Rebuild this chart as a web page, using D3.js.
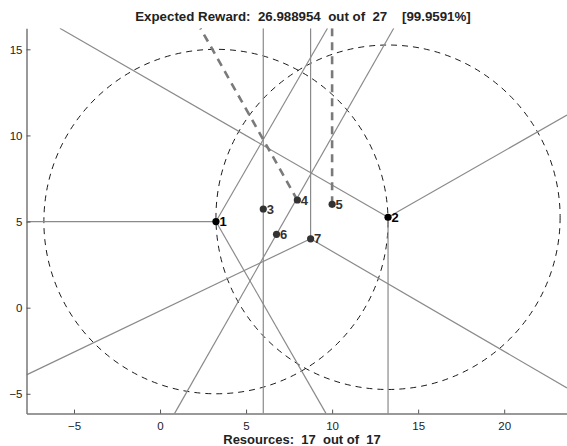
<!DOCTYPE html>
<html><head><meta charset="utf-8">
<script src="https://cdn.jsdelivr.net/npm/d3@7"></script>
<style>
body{margin:0;background:#fff;}
text{font-family:"Liberation Sans",Arial,Helvetica,sans-serif;}
</style></head>
<body><svg id="c" width="567" height="446"></svg>
<script>
// ---- data ----
const xDomain = [-7.76, 23.65];
const yDomain = [-6.15, 16.22];
const xTicks = [-5, 0, 5, 10, 15, 20];
const yTicks = [-5, 0, 5, 10, 15];
const pointIds = ["1","2","3","4","5","6","7"];
const pointX = [3.25, 13.25, 6.0, 7.98, 10.0, 6.77, 8.75];
const pointY = [5.0, 5.25, 5.73, 6.25, 6.0, 4.26, 4.0];
const circleCenters = ["1","2"];
const circleRadius = 10;
// solid segments [x1,y1,x2,y2] in data units
const segX1 = [-7.76, 3.25, 3.25, 6.0, 0.84, 8.75, 8.75, 8.75, 13.25, 13.25, 13.25];
const segY1 = [5.0, 5.0, 5.0, -6.15, -6.15, 4.0, 4.0, 4.0, 5.25, 5.25, 5.25];
const segX2 = [3.25, 9.73, 9.65, 6.0, 13.58, 8.75, -7.76, 23.65, -5.82, 23.65, 13.25];
const segY2 = [5.0, 16.22, -6.15, 16.22, 16.22, 16.22, -3.9, -4.66, 16.22, 11.18, -6.15];
// dashed thick segments
const dashX1 = [7.98, 10.0];
const dashY1 = [6.25, 6.0];
const dashX2 = [2.35, 10.0];
const dashY2 = [16.22, 16.22];
const titleText = "Expected Reward:  26.988954  out of  27    [99.9591%]";
const xLabelText = "Resources:  17  out of  17";

// ---- drawing ----
const svg = d3.select("#c");
const L = 26.5, R = 567, T = 28.3, B = 413.6;
const x = d3.scaleLinear().domain(xDomain).range([L, R]);
const y = d3.scaleLinear().domain(yDomain).range([B, T]);

svg.append("rect").attr("width",567).attr("height",446).attr("fill","#fff");
svg.append("clipPath").attr("id","clip").append("rect")
  .attr("x",L).attr("y",T).attr("width",R-L).attr("height",B-T);
const g = svg.append("g").attr("clip-path","url(#clip)");

const pts = pointIds.map((id,i)=>({id, x:pointX[i], y:pointY[i]}));

// circles
g.selectAll("ellipse.cov").data(circleCenters.map(id=>pts.find(p=>p.id===id)))
  .enter().append("ellipse")
  .attr("cx",d=>x(d.x)).attr("cy",d=>y(d.y))
  .attr("rx",d=>x(d.x+circleRadius)-x(d.x))
  .attr("ry",d=>y(d.y)-y(d.y+circleRadius))
  .attr("fill","none").attr("stroke","#000").attr("stroke-width",0.9)
  .attr("stroke-dasharray","6,5");

// solid segments
const segs = segX1.map((v,i)=>({x1:v,y1:segY1[i],x2:segX2[i],y2:segY2[i]}));
g.selectAll("line.seg").data(segs).enter().append("line")
  .attr("x1",d=>x(d.x1)).attr("y1",d=>y(d.y1))
  .attr("x2",d=>x(d.x2)).attr("y2",d=>y(d.y2))
  .attr("stroke","#8a8a8a").attr("stroke-width",1.2);

// dashed segments
const dsegs = dashX1.map((v,i)=>({x1:v,y1:dashY1[i],x2:dashX2[i],y2:dashY2[i]}));
g.selectAll("line.dseg").data(dsegs).enter().append("line")
  .attr("x1",d=>x(d.x1)).attr("y1",d=>y(d.y1))
  .attr("x2",d=>x(d.x2)).attr("y2",d=>y(d.y2))
  .attr("stroke","#7a7a7a").attr("stroke-width",2.6)
  .attr("stroke-dasharray","8,6");

// points
const pg = svg.append("g");
pg.selectAll("circle").data(pts).enter().append("circle")
  .attr("cx",d=>x(d.x)).attr("cy",d=>y(d.y)).attr("r",3.6)
  .attr("fill",d=>(d.id==="1"||d.id==="2")?"#000":"#333");
pg.selectAll("text").data(pts).enter().append("text")
  .attr("x",d=>x(d.x)+3.5).attr("y",d=>y(d.y)+4.6)
  .attr("font-size",13).attr("font-weight","bold")
  .attr("fill",d=>(d.id==="1"||d.id==="2")?"#000":"#333")
  .text(d=>d.id);

// axes
const fmt = d => d<0 ? "\u2212"+Math.abs(d) : String(d);
const ax = svg.append("g").attr("transform",`translate(0,${B})`)
  .call(d3.axisBottom(x).tickValues(xTicks).tickSizeInner(-4).tickSizeOuter(0).tickPadding(8).tickFormat(fmt));
const ay = svg.append("g").attr("transform",`translate(${L},0)`)
  .call(d3.axisLeft(y).tickValues(yTicks).tickSizeInner(-4).tickSizeOuter(0).tickPadding(4).tickFormat(fmt));
[ax,ay].forEach(a=>{
  a.select(".domain").attr("stroke","#777").attr("stroke-width",1.5);
  a.selectAll(".tick line").attr("stroke","#555").attr("stroke-width",1);
  a.selectAll(".tick text").attr("font-size",11.5).attr("fill","#222")
   .attr("font-family","'Liberation Sans',Arial,sans-serif");
});

svg.append("text").attr("x",303).attr("y",20.5).attr("text-anchor","middle")
  .attr("font-size",13.3).attr("font-weight","bold").attr("fill","#222")
  .style("white-space","pre").attr("xml:space","preserve").text(titleText);
svg.append("text").attr("x",302).attr("y",443.5).attr("text-anchor","middle")
  .attr("font-size",13).attr("font-weight","bold").attr("fill","#222")
  .style("white-space","pre").attr("xml:space","preserve").text(xLabelText);
</script></body></html>
